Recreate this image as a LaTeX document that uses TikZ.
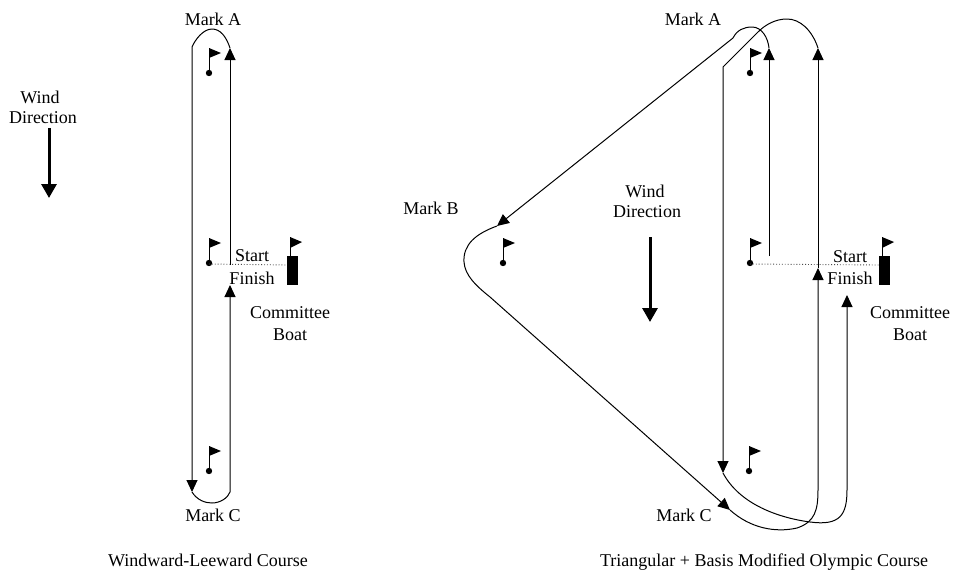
\documentclass[tikz,border=0pt]{standalone}
\usepackage{fontspec}
\setmainfont{Liberation Serif}
\usetikzlibrary{arrows.meta}
\tikzset{
  lbl/.style={font=\fontsize{18}{22}\selectfont, inner sep=0pt, anchor=base},
  course/.style={line width=1pt, line join=round},
  tip/.style={-{Triangle[width=11pt,length=12pt]}},
  windarrow/.style={line width=3pt, -{Triangle[width=15pt,length=14pt]}},
  startline/.style={dotted, line width=0.9pt, black!70},
  flagpic/.pic={
    \draw[line width=1pt] (0,0) -- (0,25);
    \fill (0,25) circle (3.2pt);
    \fill (0,0) -- (12,5) -- (0,10) -- cycle;
  },
  boatpic/.pic={
    \fill (0,19) rectangle (11,48);
    \draw[line width=1pt] (3,0) -- (3,19);
    \fill (3,0) -- (15,5) -- (3,11) -- cycle;
  }
}
\begin{document}
\begin{tikzpicture}[x=1pt,y=-1pt]
\useasboundingbox (0,0) rectangle (954,573);
\fill[white] (0,0) rectangle (954,573);

% ---------------- Left: Windward-Leeward ----------------
\node[lbl] (lMarkA) at (213,25) {Mark A};
\node[lbl] (lMarkC) at (213,521) {Mark C};
\node[lbl] (lWind) at (40,103) {Wind};
\node[lbl] (lDir) at (43,123) {Direction};
\node[lbl] (lStart) at (252,261) {Start};
\node[lbl] (lFinish) at (252,284) {Finish};
\node[lbl] (lComm) at (290,318) {Committee};
\node[lbl] (lBoat) at (290,340) {Boat};
\node[lbl] (lCap) at (208,566) {Windward-Leeward Course};

\coordinate (lw1) at (49,128);
\coordinate (lw2) at (49,198);
\draw[windarrow] (lw1) -- (lw2);

\pic at (209,48) {flagpic};
\pic at (209,238) {flagpic};
\pic at (209,446) {flagpic};
\pic at (287,237) {boatpic};

\coordinate (lDot) at (209,264);
\coordinate (lBoatL) at (287,265);
\draw[startline] (lDot) -- (lBoatL);

\coordinate (lS) at (230,265);
\coordinate (lAr) at (230,48);
\coordinate (lAl) at (192,47);
\coordinate (lCl) at (192,492);
\coordinate (lCr) at (230,492);
\coordinate (lF) at (230,285);
\draw[course,tip] (lS) -- (lAr);
\draw[course,tip] (lAr) .. controls (226,36) and (220,29) .. (212,29)
   .. controls (203,29) and (195,40) .. (lAl) -- (lCl);
\draw[course,tip] (lCl) .. controls (197,500) and (205,503) .. (212,503)
   .. controls (220,503) and (228,498) .. (lCr) -- (lF);

% ---------------- Right: Triangular + Olympic ----------------
\node[lbl] (rMarkA) at (693,25) {Mark A};
\node[lbl] (rMarkB) at (431,214) {Mark B};
\node[lbl] (rMarkC) at (684,521) {Mark C};
\node[lbl] (rWind) at (645,197) {Wind};
\node[lbl] (rDir) at (647,217) {Direction};
\node[lbl] (rStart) at (850,262) {Start};
\node[lbl] (rFinish) at (850,284) {Finish};
\node[lbl] (rComm) at (910,318) {Committee};
\node[lbl] (rBoat) at (910,340) {Boat};
\node[lbl] (rCap) at (764,566) {Triangular + Basis Modified Olympic Course};

\coordinate (rw1) at (650,237);
\coordinate (rw2) at (650,322);
\draw[windarrow] (rw1) -- (rw2);

\pic at (750,48) {flagpic};
\pic at (503,238) {flagpic};
\pic at (750,238) {flagpic};
\pic at (749,446) {flagpic};
\pic at (879,237) {boatpic};

\coordinate (rDot) at (750,264);
\coordinate (rBoatL) at (879,265);
\draw[startline] (rDot) -- (rBoatL);

\coordinate (rS) at (769,256);
\coordinate (rA1) at (769,48);
\coordinate (rB) at (497,226);
\coordinate (rC1) at (730,510);
\coordinate (rF1) at (818,268);
\coordinate (rA2) at (818,48);
\coordinate (rC2) at (723,473);
\coordinate (rF2) at (847,295);

\draw[course,tip] (rS) -- (rA1);
\draw[course,tip] (rA1) .. controls (768,38) and (762,27) .. (752,27)
   .. controls (744,27) and (737,30) .. (733,38) -- (rB);
\draw[course,tip] (rB) .. controls (475,234) and (463,245) .. (464,262)
   .. controls (465,275) and (475,285) .. (490,297) -- (rC1);
\draw[course,tip] (rC1) .. controls (750,528) and (775,533) .. (797,528)
   .. controls (815,522) and (818,510) .. (818,490) -- (rF1);
\draw[course,tip] (rF1) -- (rA2);
\draw[course,tip] (rA2) .. controls (812,30) and (800,19) .. (787,19)
   .. controls (775,19) and (765,25) .. (758,32) -- (735,55) -- (723,67) -- (rC2);
\draw[course,tip] (rC2) .. controls (740,505) and (780,518) .. (810,522)
   .. controls (840,526) and (847,515) .. (847,490) -- (rF2);
\end{tikzpicture}
\end{document}
